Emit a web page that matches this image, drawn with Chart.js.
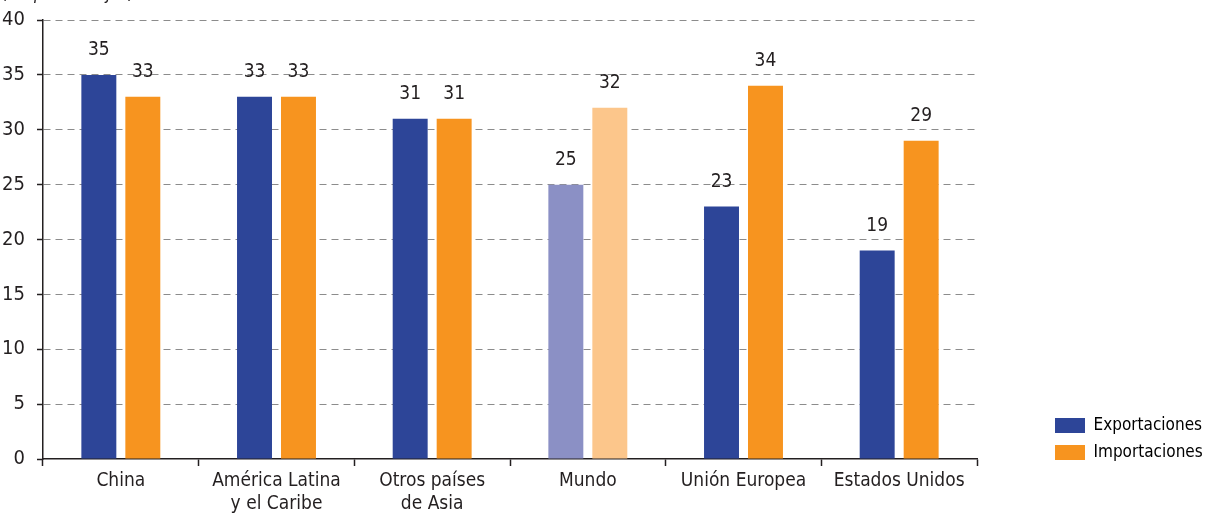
<!DOCTYPE html>
<html lang="es">
<head>
    <meta charset="UTF-8">
    <title>Exportaciones e importaciones</title>
    <script src="https://cdn.jsdelivr.net/npm/chart.js"></script>
    <style>
        body {
            margin: 0;
            background-color: #fff;
            font-family: 'DejaVu Sans Condensed', Arial, sans-serif;
        }

        .wrap {
            position: relative;
            width: 1206px;
            height: 513px;
            overflow: hidden;
        }

        .subtitle {
            position: absolute;
            left: 2px;
            top: -18px;
            font-size: 18px;
            font-style: italic;
            color: #231f20;
        }
    </style>
</head>
<body>
    <div class="wrap">
        <div class="subtitle">(En porcentajes)</div>
        <canvas id="myChart"></canvas>
    </div>

    <script>
        const categories = ['China', ['América Latina', 'y el Caribe'], ['Otros países', 'de Asia'], 'Mundo', 'Unión Europea', 'Estados Unidos'];
        const exportaciones = [35, 33, 31, 25, 23, 19];
        const importaciones = [33, 33, 31, 32, 34, 29];
        const yTicks = [0, 5, 10, 15, 20, 25, 30, 35, 40];

        const blue = '#2d4598';
        const orange = '#f7941f';
        const blueLight = '#8b90c5';
        const orangeLight = '#fcc68b';
        const font = "'DejaVu Sans Condensed', Arial, sans-serif";
        const textColor = '#231f20';

        // Mundo gets the lighter shades
        const expColors = categories.map(c => c === 'Mundo' ? blueLight : blue);
        const impColors = categories.map(c => c === 'Mundo' ? orangeLight : orange);

        // draw the value above each bar
        const valueLabels = {
            id: 'valueLabels',
            afterDatasetsDraw(chart) {
                const ctx = chart.ctx;
                ctx.save();
                ctx.font = '19px ' + font;
                ctx.fillStyle = textColor;
                ctx.textAlign = 'center';
                ctx.textBaseline = 'bottom';
                chart.data.datasets.forEach((ds, d) => {
                    chart.getDatasetMeta(d).data.forEach((bar, i) => {
                        ctx.fillText(ds.data[i], bar.x, bar.y - 15);
                    });
                });
                ctx.restore();
            }
        };

        // push the legend down so it sits on the x axis line
        const legendDown = {
            id: 'legendDown',
            afterLayout(chart) {
                if (chart.legend) {
                    chart.legend.top += 12;
                    chart.legend.bottom += 12;
                }
            }
        };

        const ctx = document.getElementById('myChart').getContext('2d');
        const myChart = new Chart(ctx, {
            type: 'bar',
            data: {
                labels: categories,
                datasets: [
                    {
                        label: 'Exportaciones',
                        data: exportaciones,
                        backgroundColor: expColors,
                        categoryPercentage: 0.565,
                        barPercentage: 0.795
                    },
                    {
                        label: 'Importaciones',
                        data: importaciones,
                        backgroundColor: impColors,
                        categoryPercentage: 0.565,
                        barPercentage: 0.795
                    }
                ]
            },
            options: {
                responsive: true,
                maintainAspectRatio: false,
                animation: false,
                layout: {
                    padding: { top: 20, left: 0, right: 1, bottom: 0 }
                },
                plugins: {
                    tooltip: { enabled: false },
                    legend: {
                        position: 'right',
                        align: 'end',
                        fullSize: false,
                        maxWidth: 160,
                        labels: {
                            boxWidth: 30,
                            boxHeight: 15,
                            padding: 10,
                            color: textColor,
                            font: { family: font, size: 17 },
                            generateLabels: () => [
                                { text: 'Exportaciones', fillStyle: blue, strokeStyle: blue, lineWidth: 0, datasetIndex: 0 },
                                { text: 'Importaciones', fillStyle: orange, strokeStyle: orange, lineWidth: 0, datasetIndex: 1 }
                            ]
                        }
                    }
                },
                scales: {
                    x: {
                        grid: {
                            offset: true,
                            drawOnChartArea: false,
                            tickLength: 7,
                            tickColor: '#231f20',
                            tickWidth: 1.5
                        },
                        border: { color: '#231f20', width: 1.5 },
                        ticks: {
                            color: textColor,
                            font: { family: font, size: 19, lineHeight: 1.2 },
                            padding: 4,
                            maxRotation: 0,
                            autoSkip: false
                        },
                        afterFit: s => { s.height = 54; }
                    },
                    y: {
                        min: 0,
                        max: 40,
                        afterBuildTicks: s => { s.ticks = yTicks.map(v => ({ value: v })); },
                        grid: {
                            color: c => c.tick && c.tick.value === 0 ? 'rgba(0,0,0,0)' : '#8c8c8c',
                            lineWidth: 1,
                            tickLength: 6,
                            tickColor: '#231f20',
                            tickWidth: 1.5
                        },
                        border: { color: '#231f20', width: 1.5, dash: [7, 5] },
                        ticks: {
                            color: textColor,
                            font: { family: font, size: 20 },
                            padding: 12
                        },
                        afterFit: s => {
                            s.width = 43;
                            s.paddingTop = 0;
                            s.paddingBottom = 0;
                        }
                    },
                    spacer: {
                        type: 'linear',
                        position: 'right',
                        display: true,
                        grid: { display: false },
                        border: { display: false },
                        ticks: { display: false },
                        afterFit: s => { s.width = 68; }
                    }
                }
            },
            plugins: [valueLabels, legendDown]
        });
    </script>
</body>
</html>
